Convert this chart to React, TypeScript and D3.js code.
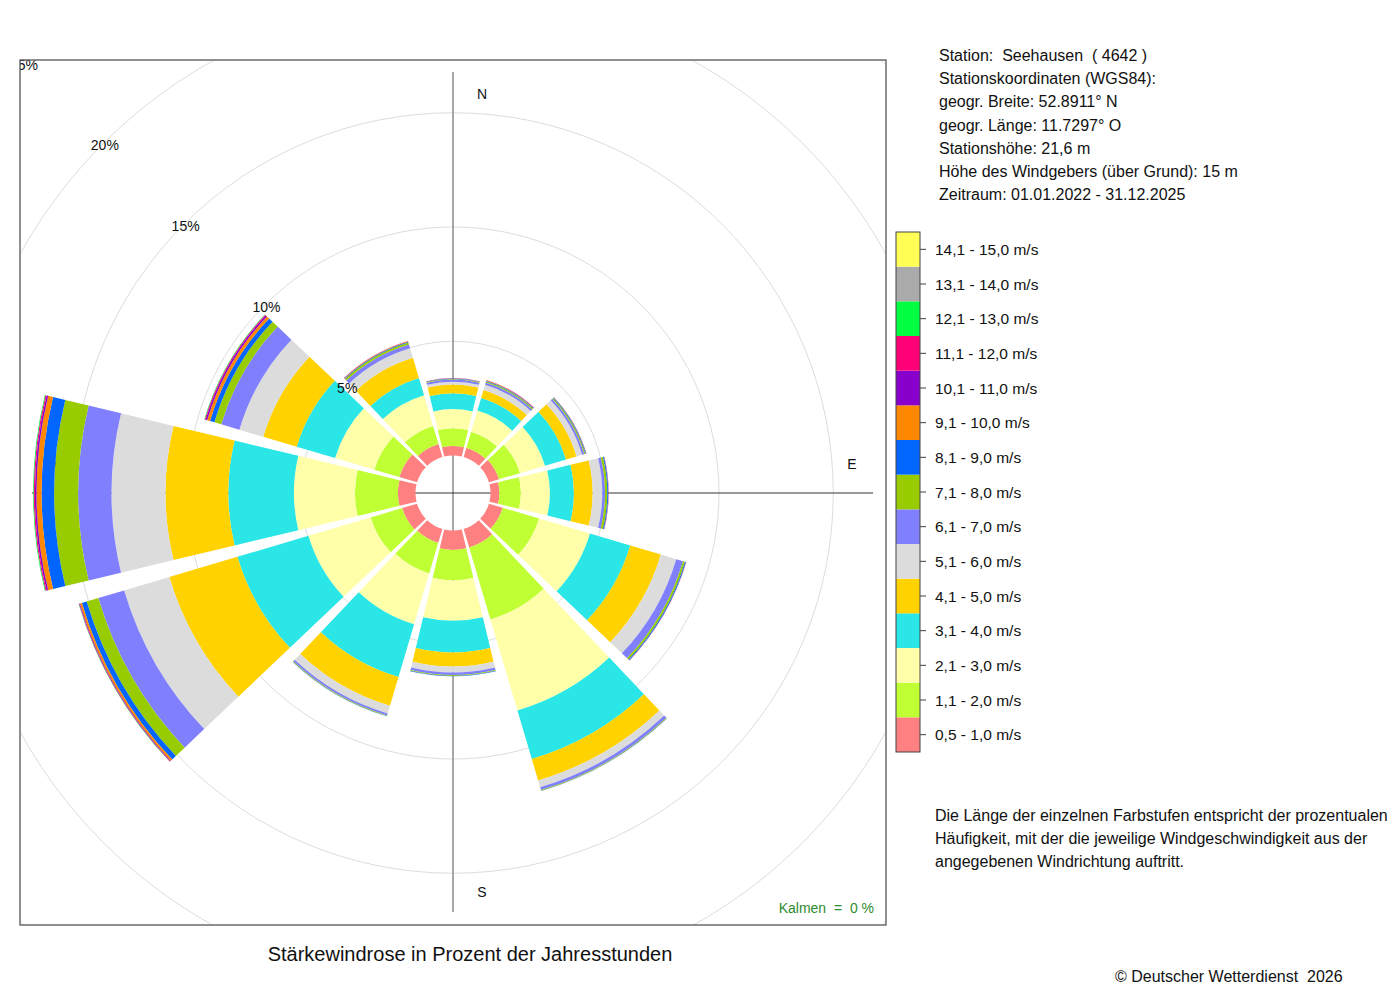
import React, { useEffect, useRef } from 'react';
import * as d3 from 'd3';

// Compass directions (degrees, clockwise from north)
const directions = [0, 30, 60, 90, 120, 150, 180, 210, 240, 270, 300, 330];

// Speed classes, lowest first
const speedClasses = [
  '0,5 - 1,0 m/s', '1,1 - 2,0 m/s', '2,1 - 3,0 m/s', '3,1 - 4,0 m/s', '4,1 - 5,0 m/s',
  '5,1 - 6,0 m/s', '6,1 - 7,0 m/s', '7,1 - 8,0 m/s', '8,1 - 9,0 m/s', '9,1 - 10,0 m/s',
  '10,1 - 11,0 m/s', '11,1 - 12,0 m/s', '12,1 - 13,0 m/s', '13,1 - 14,0 m/s', '14,1 - 15,0 m/s',
];
const classColors = [
  '#ff8080', '#bfff33', '#ffffaa', '#2ae6e6', '#ffd200',
  '#dcdcdc', '#8080ff', '#99cc00', '#0066ff', '#ff8800',
  '#8800cc', '#ff0077', '#00ff40', '#aaaaaa', '#ffff55',
];

// Percent of year hours per speed class, per direction
const freqN   = [0.42, 0.77, 0.84, 0.69, 0.39, 0.12, 0.09, 0.03, 0.02, 0.01, 0.01, 0, 0, 0, 0];
const freqNNE = [0.42, 0.74, 0.96, 0.58, 0.36, 0.24, 0.10, 0.05, 0.03, 0.02, 0.01, 0.01, 0, 0, 0];
const freqNE  = [0.46, 0.96, 1.14, 0.96, 0.48, 0.25, 0.10, 0.05, 0.03, 0.01, 0.01, 0, 0, 0, 0];
const freqE   = [0.39, 0.94, 1.27, 1.05, 0.82, 0.42, 0.12, 0.10, 0.04, 0.01, 0.01, 0, 0, 0, 0];
const freqESE = [0.63, 1.66, 2.32, 1.84, 1.40, 0.70, 0.31, 0.09, 0.04, 0.01, 0.01, 0, 0, 0, 0];
const freqSSE = [0.85, 3.28, 4.16, 2.21, 0.98, 0.31, 0.13, 0.03, 0.01, 0, 0, 0, 0, 0, 0];
const freqS   = [0.85, 1.34, 1.76, 1.39, 0.61, 0.26, 0.11, 0.04, 0.02, 0, 0, 0, 0, 0, 0];
const freqSSW = [0.63, 1.40, 2.32, 2.41, 1.31, 0.35, 0.09, 0.03, 0.01, 0, 0, 0, 0, 0, 0];
const freqWSW = [0.68, 1.44, 2.84, 3.24, 3.11, 2.06, 1.18, 0.53, 0.22, 0.09, 0.03, 0.02, 0.01, 0, 0];
const freqW   = [0.77, 1.88, 2.67, 2.87, 2.75, 2.36, 1.46, 1.05, 0.55, 0.22, 0.07, 0.05, 0.03, 0, 0];
const freqWNW = [0.81, 1.14, 1.79, 1.75, 1.53, 1.09, 0.83, 0.31, 0.20, 0.13, 0.07, 0.04, 0.02, 0, 0];
const freqNNW = [0.59, 0.83, 1.40, 0.79, 0.92, 0.44, 0.17, 0.09, 0.03, 0.02, 0.01, 0.01, 0, 0, 0];

const ringTicks = [5, 10, 15, 20, 25];

const stationInfo = [
  'Station:  Seehausen  ( 4642 )',
  'Stationskoordinaten (WGS84):',
  'geogr. Breite: 52.8911° N',
  'geogr. Länge: 11.7297° O',
  'Stationshöhe: 21,6 m',
  'Höhe des Windgebers (über Grund): 15 m',
  'Zeitraum: 01.01.2022 - 31.12.2025',
];
const noteLines = [
  'Die Länge der einzelnen Farbstufen entspricht der prozentualen',
  'Häufigkeit, mit der die jeweilige Windgeschwindigkeit aus der',
  'angegebenen Windrichtung auftritt.',
];

const App: React.FC = () => {
  const svgRef = useRef<SVGSVGElement>(null);

  useEffect(() => {
    if (!svgRef.current) return;
    const svg = d3.select(svgRef.current);
    svg.selectAll('*').remove();

    const font = '"Liberation Sans", Arial, Helvetica, sans-serif';
    const box = { x0: 20, y0: 60, x1: 886, y1: 925 };
    const cx = 453;
    const cy = 493;
    const rad = Math.PI / 180;
    const halfWidth = 13.5 * rad;

    const r = d3.scaleLinear().domain([0, 25]).range([37.5, 608.75]);
    const freqTable = [freqN, freqNNE, freqNE, freqE, freqESE, freqSSE, freqS, freqSSW, freqWSW, freqW, freqWNW, freqNNW];

    svg.append('defs').append('clipPath').attr('id', 'plotClip')
      .append('rect')
      .attr('x', box.x0).attr('y', box.y0)
      .attr('width', box.x1 - box.x0).attr('height', box.y1 - box.y0);

    const plot = svg.append('g').attr('clip-path', 'url(#plotClip)');
    const g = plot.append('g').attr('transform', `translate(${cx},${cy})`);

    // grid circles
    g.selectAll('circle.grid')
      .data(ringTicks)
      .join('circle')
      .attr('class', 'grid')
      .attr('r', d => r(d))
      .attr('fill', 'none')
      .attr('stroke', '#dddddd')
      .attr('stroke-width', 1);

    // axes
    g.append('line')
      .attr('x1', 0).attr('x2', 0).attr('y1', -421).attr('y2', 419)
      .attr('stroke', '#8a8a8a').attr('stroke-width', 1.5);
    g.append('line')
      .attr('x1', -421).attr('x2', 420).attr('y1', 0).attr('y2', 0)
      .attr('stroke', '#333').attr('stroke-width', 1);

    // compass letters
    const compass = [
      { t: 'N', x: 29, y: -399 },
      { t: 'E', x: 399, y: -29 },
      { t: 'S', x: 29, y: 399 },
      { t: 'W', x: -399, y: -29 },
    ];
    g.selectAll('text.compass')
      .data(compass)
      .join('text')
      .attr('class', 'compass')
      .attr('x', d => d.x).attr('y', d => d.y + 5)
      .attr('text-anchor', 'middle')
      .attr('font-family', font).attr('font-size', 14)
      .attr('fill', '#111')
      .text(d => d.t);

    // sectors
    const arc = d3.arc<{ inner: number; outer: number; a: number }>()
      .innerRadius(d => d.inner)
      .outerRadius(d => d.outer)
      .startAngle(d => d.a - halfWidth)
      .endAngle(d => d.a + halfWidth);

    directions.forEach((dir, i) => {
      const vals = freqTable[i];
      let cum = 0;
      const segs = vals.map((v, k) => {
        const s = { inner: r(cum), outer: r(cum + v), a: dir * rad, k };
        cum += v;
        return s;
      }).filter(s => s.outer > s.inner);
      g.append('g').selectAll('path')
        .data(segs)
        .join('path')
        .attr('d', d => arc(d) as string)
        .attr('fill', d => classColors[d.k]);
    });

    // percent labels along NW
    g.selectAll('text.pct')
      .data(ringTicks)
      .join('text')
      .attr('class', 'pct')
      .attr('x', d => -r(d) * Math.SQRT1_2 + 1.5)
      .attr('y', d => -r(d) * Math.SQRT1_2 + 7)
      .attr('text-anchor', 'middle')
      .attr('font-family', font).attr('font-size', 14)
      .attr('fill', '#111')
      .text(d => `${d}%`);

    // calm
    svg.append('text')
      .attr('x', 874).attr('y', 913)
      .attr('text-anchor', 'end')
      .attr('font-family', font).attr('font-size', 14)
      .attr('fill', '#2e8b2e')
      .attr('xml:space', 'preserve')
      .style('white-space', 'pre')
      .text('Kalmen  =  0 %');

    // frame
    svg.append('rect')
      .attr('x', box.x0).attr('y', box.y0)
      .attr('width', box.x1 - box.x0).attr('height', box.y1 - box.y0)
      .attr('fill', 'none').attr('stroke', '#555').attr('stroke-width', 1.3);

    // title
    svg.append('text')
      .attr('x', 470).attr('y', 961)
      .attr('text-anchor', 'middle')
      .attr('font-family', font).attr('font-size', 20)
      .attr('fill', '#111')
      .text('Stärkewindrose in Prozent der Jahresstunden');

    // station info
    svg.append('g').selectAll('text')
      .data(stationInfo)
      .join('text')
      .attr('x', 939).attr('y', (_, i) => 61 + i * 23.2)
      .attr('font-family', font).attr('font-size', 16)
      .attr('fill', '#111')
      .style('white-space', 'pre')
      .text(d => d);

    // legend
    const legendTop = 232;
    const legendBottom = 752;
    const legendY = d3.scaleBand<number>()
      .domain(d3.range(speedClasses.length).reverse())
      .range([legendTop, legendBottom]);
    const leg = svg.append('g');
    leg.selectAll('rect.sw')
      .data(d3.range(speedClasses.length))
      .join('rect')
      .attr('class', 'sw')
      .attr('x', 896).attr('width', 24)
      .attr('y', d => legendY(d)!)
      .attr('height', legendY.bandwidth())
      .attr('fill', d => classColors[d]);
    leg.append('rect')
      .attr('x', 896).attr('y', legendTop)
      .attr('width', 24).attr('height', legendBottom - legendTop)
      .attr('fill', 'none').attr('stroke', '#444').attr('stroke-width', 1);
    leg.selectAll('line.tick')
      .data(d3.range(speedClasses.length))
      .join('line')
      .attr('class', 'tick')
      .attr('x1', 920).attr('x2', 926)
      .attr('y1', d => legendY(d)! + legendY.bandwidth() / 2)
      .attr('y2', d => legendY(d)! + legendY.bandwidth() / 2)
      .attr('stroke', '#444');
    leg.selectAll('text')
      .data(d3.range(speedClasses.length))
      .join('text')
      .attr('x', 935)
      .attr('y', d => legendY(d)! + legendY.bandwidth() / 2 + 5.5)
      .attr('font-family', font).attr('font-size', 15.5)
      .attr('fill', '#111')
      .text(d => speedClasses[d]);

    // note
    svg.append('g').selectAll('text')
      .data(noteLines)
      .join('text')
      .attr('x', 935).attr('y', (_, i) => 821 + i * 23)
      .attr('font-family', font).attr('font-size', 16)
      .attr('fill', '#111')
      .text(d => d);

    svg.append('text')
      .attr('x', 1115).attr('y', 982)
      .attr('font-family', font).attr('font-size', 16)
      .attr('fill', '#111')
      .style('white-space', 'pre')
      .text('© Deutscher Wetterdienst  2026');
  }, []);

  return (
    <svg
      ref={svgRef}
      width={1400}
      height={1000}
      viewBox="0 0 1400 1000"
      style={{ position: 'absolute', left: 0, top: 0, background: '#fff' }}
    />
  );
};

export default App;
